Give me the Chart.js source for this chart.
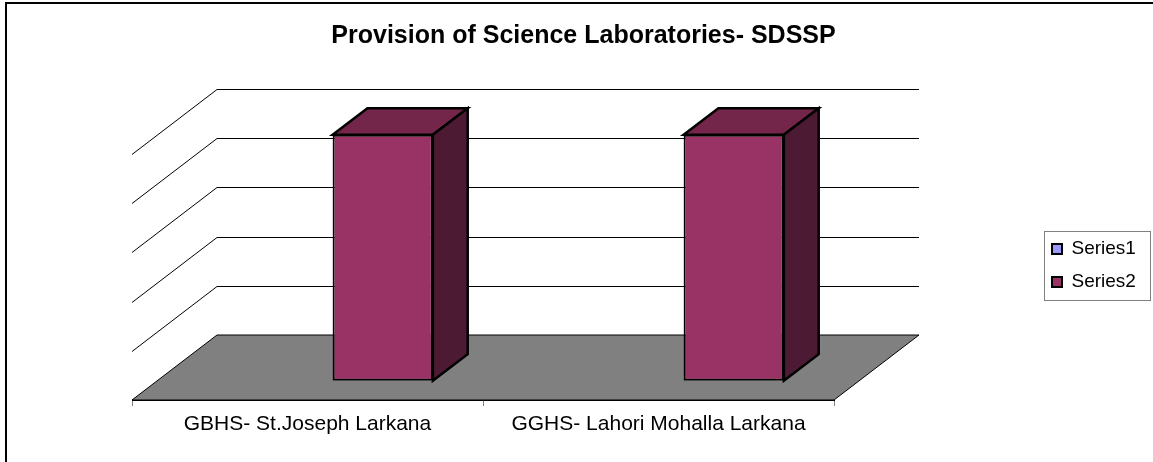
<!DOCTYPE html>
<html>
<head>
<meta charset="utf-8">
<script src="https://cdn.jsdelivr.net/npm/chart.js@4.4.1/dist/chart.umd.min.js"></script>
<style>
  html, body { margin: 0; padding: 0; background: #fff; }
  #wrap { position: relative; width: 1153px; height: 462px; }
</style>
</head>
<body>
<div id="wrap"><canvas id="chart"></canvas></div>
<script>
const categories = ["GBHS- St.Joseph Larkana", "GGHS- Lahori Mohalla Larkana"];
const series1 = [0, 0];
const series2 = [1, 1];
const valueTicks = [0, 0.2, 0.4, 0.6, 0.8, 1];

// fake 3d: how far the floor runs back, and where the bars sit in it
const depthX = 85, depthY = 65;
const barFront = 0.295, barDepth = 0.41;
const shades = [
  { top: "#7373bf", side: "#4d4d80" },
  { top: "#732649", side: "#4d1a33" },
];

const box3d = {
  id: "box3d",
  afterLayout(chart) {
    // put the legend where excel had it
    const lg = chart.legend;
    lg.left = 1038;
    lg.right = 1150;
    lg.top = 225.5;
    lg.bottom = 225.5 + 14 + 66;
    lg.width = lg.right - lg.left;
    lg.height = lg.bottom - lg.top;
  },
  beforeDatasetsDraw(chart) {
    const { ctx, chartArea: a, scales: { y } } = chart;
    const y0 = y.getPixelForValue(0);
    ctx.save();
    ctx.beginPath();
    ctx.moveTo(a.left, y0);
    ctx.lineTo(a.right, y0);
    ctx.lineTo(a.right + depthX, y0 - depthY);
    ctx.lineTo(a.left + depthX, y0 - depthY);
    ctx.closePath();
    ctx.fillStyle = "#808080";
    ctx.fill();
    ctx.lineWidth = 1;
    ctx.strokeStyle = "#000";
    ctx.stroke();
    y.ticks.forEach((t) => {
      if (t.value === 0) return;
      const py = Math.round(y.getPixelForValue(t.value)) + 0.5;
      ctx.beginPath();
      ctx.moveTo(a.left, py);
      ctx.lineTo(a.left + depthX, py - depthY);
      ctx.lineTo(a.right + depthX, py - depthY);
      ctx.stroke();
    });
    ctx.restore();
  },
  beforeDatasetDraw(chart) {
    chart.ctx.save();
    chart.ctx.translate(depthX * barFront, -depthY * barFront);
  },
  afterDatasetDraw(chart, args) {
    const ctx = chart.ctx;
    const shade = shades[args.index];
    const bx = depthX * barDepth, by = depthY * barDepth;
    ctx.lineWidth = 2.5;
    ctx.strokeStyle = "#000";
    ctx.lineJoin = "miter";
    args.meta.data.forEach((bar) => {
      const { x, y, base, width } = bar.getProps(["x", "y", "base", "width"], true);
      if (Math.abs(base - y) < 1) return;
      const l = x - width / 2, r = x + width / 2;
      ctx.beginPath();
      ctx.moveTo(l, y);
      ctx.lineTo(r, y);
      ctx.lineTo(r + bx, y - by);
      ctx.lineTo(l + bx, y - by);
      ctx.closePath();
      ctx.fillStyle = shade.top;
      ctx.fill();
      ctx.stroke();
      ctx.beginPath();
      ctx.moveTo(r, y);
      ctx.lineTo(r + bx, y - by);
      ctx.lineTo(r + bx, base - by);
      ctx.lineTo(r, base);
      ctx.closePath();
      ctx.fillStyle = shade.side;
      ctx.fill();
      ctx.stroke();
    });
    ctx.restore();
  },
  afterDraw(chart) {
    const ctx = chart.ctx;
    ctx.save();
    ctx.strokeStyle = "#808080";
    ctx.lineWidth = 1;
    ctx.strokeRect(1044.5, 231.5, 106, 69);
    ctx.strokeStyle = "#000";
    ctx.lineWidth = 2;
    ctx.strokeRect(6, 3, 1200, 500);
    ctx.restore();
  },
};

Chart.defaults.font.family = '"Liberation Sans", Arial, sans-serif';
Chart.defaults.color = "#000";

new Chart(document.getElementById("chart"), {
  type: "bar",
  data: {
    labels: categories,
    datasets: [
      {
        label: "Series1",
        data: series1,
        backgroundColor: "#9999ff",
        borderColor: "#000",
        borderWidth: 2,
      },
      {
        label: "Series2",
        data: series2,
        backgroundColor: "#993366",
        borderColor: "#000",
        borderWidth: 2,
      },
    ],
  },
  options: {
    responsive: true,
    maintainAspectRatio: false,
    animation: false,
    datasets: {
      bar: { categoryPercentage: 2 / 3.5, barPercentage: 1, borderSkipped: false },
    },
    layout: { padding: { left: 14, right: 0, top: 0, bottom: 0 } },
    plugins: {
      title: {
        display: true,
        text: "Provision of Science Laboratories- SDSSP",
        font: { size: 25, weight: "bold" },
        padding: { top: 21, bottom: 103 },
      },
      legend: {
        display: true,
        position: "chartArea",
        labels: { boxWidth: 10, boxHeight: 10, padding: 14, font: { size: 19 } },
      },
      tooltip: { enabled: false },
    },
    scales: {
      x: {
        offset: true,
        grid: { display: true, drawOnChartArea: false, drawTicks: true, tickLength: 6, color: "#808080", offset: true },
        border: { display: true, color: "#000" },
        ticks: { font: { size: 21 }, padding: 6, maxRotation: 0, autoSkip: false },
        afterFit: (scale) => { scale.height = 62; },
      },
      y: {
        min: valueTicks[0],
        max: valueTicks[valueTicks.length - 1],
        grid: { display: false },
        border: { display: false },
        ticks: { display: false },
        afterBuildTicks: (scale) => { scale.ticks = valueTicks.map((v) => ({ value: v })); },
        afterFit: (scale) => { scale.width = 118; },
      },
      y2: {
        position: "right",
        grid: { display: false },
        border: { display: false },
        ticks: { display: false },
        afterFit: (scale) => { scale.width = 319; },
      },
    },
  },
  plugins: [box3d],
});
</script>
</body>
</html>
